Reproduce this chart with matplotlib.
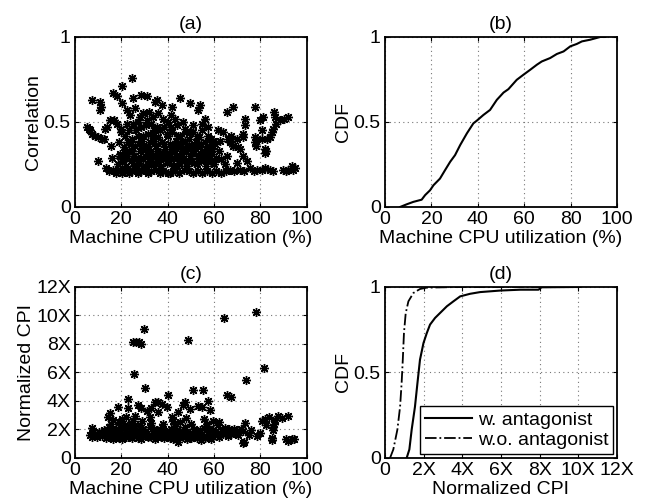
import matplotlib
matplotlib.use("Agg")
import matplotlib.pyplot as plt
import numpy as np

plt.rcParams['font.family'] = ['Liberation Sans', 'DejaVu Sans']
plt.rcParams['font.size'] = 14

# (a) correlation vs machine CPU utilization
corr_pts = [
    (5.0, 0.47), (6.0, 0.46), (6.5, 0.45), (7.5, 0.43), (8.5, 0.42), (10.0, 0.41), (11.5, 0.40),
    (12.5, 0.40), (13.0, 0.46), (14.0, 0.47), (15.0, 0.51), (17.0, 0.51), (18.0, 0.49), (20.0, 0.46),
    (7.2, 0.63), (10.8, 0.62), (11.1, 0.59), (10.8, 0.57), (16.5, 0.67), (18.0, 0.65), (20.4, 0.71),
    (24.7, 0.76), (20.1, 0.61), (22.3, 0.57), (23.7, 0.54), (25.1, 0.64), (25.9, 0.58), (28.7, 0.66),
    (30.9, 0.65), (29.5, 0.55), (34.5, 0.62), (28.0, 0.53), (30.9, 0.51), (33.0, 0.49), (35.2, 0.47),
    (15.4, 0.36), (10.0, 0.27), (15.8, 0.29), (19.4, 0.30), (13.6, 0.23), (14.5, 0.21), (16.5, 0.22),
    (17.5, 0.20), (18.5, 0.21), (19.4, 0.22), (20.5, 0.20), (21.5, 0.21), (22.5, 0.22), (23.5, 0.20),
    (24.5, 0.21), (26.0, 0.22), (27.0, 0.20), (28.5, 0.21), (30.0, 0.22), (31.5, 0.20), (33.0, 0.21),
    (35.0, 0.22), (36.5, 0.20), (38.0, 0.21), (40.0, 0.20), (41.0, 0.20), (43.0, 0.21), (45.0, 0.20),
    (47.0, 0.22), (49.0, 0.21), (51.0, 0.20), (53.0, 0.21), (55.0, 0.20), (57.0, 0.21), (59.0, 0.20),
    (61.0, 0.21), (63.0, 0.20), (65.0, 0.21), (66.8, 0.22), (68.5, 0.21), (71.1, 0.22), (73.0, 0.21),
    (75.4, 0.23), (77.0, 0.21), (78.3, 0.22), (80.5, 0.22), (82.0, 0.23), (84.0, 0.22), (85.5, 0.21),
    (89.8, 0.22), (91.0, 0.21), (92.0, 0.22), (93.4, 0.24), (94.1, 0.22), (94.8, 0.23),
    (18.5, 0.25), (19.5, 0.31), (20.5, 0.27), (21.0, 0.35), (21.5, 0.42), (22.0, 0.24), (22.5, 0.30),
    (23.0, 0.38), (23.5, 0.45), (24.0, 0.27), (24.5, 0.33), (25.0, 0.49), (25.5, 0.24), (26.0, 0.36),
    (26.5, 0.29), (27.0, 0.42), (27.5, 0.26), (28.0, 0.33), (28.5, 0.47), (29.0, 0.39), (29.5, 0.28),
    (30.0, 0.24), (30.5, 0.35), (31.0, 0.31), (31.5, 0.43), (32.0, 0.27), (32.5, 0.38), (33.0, 0.33),
    (33.5, 0.25), (34.0, 0.45), (34.5, 0.30), (35.0, 0.36), (35.5, 0.27), (36.0, 0.41), (36.5, 0.32),
    (37.0, 0.24), (37.5, 0.38), (38.0, 0.29), (38.5, 0.47), (39.0, 0.34), (39.5, 0.26), (40.0, 0.42),
    (40.5, 0.31), (41.0, 0.37), (41.5, 0.28), (42.0, 0.44), (42.5, 0.24), (43.0, 0.33), (43.5, 0.39),
    (44.0, 0.29), (44.5, 0.35), (45.0, 0.26), (45.5, 0.42), (46.0, 0.31), (46.5, 0.38), (47.0, 0.27),
    (47.5, 0.46), (48.0, 0.33), (48.5, 0.24), (49.0, 0.40), (49.5, 0.30), (50.0, 0.36), (50.5, 0.27),
    (51.0, 0.44), (51.5, 0.33), (52.0, 0.38), (52.5, 0.25), (53.0, 0.30), (53.5, 0.41), (54.0, 0.35),
    (54.5, 0.27), (55.0, 0.45), (55.5, 0.32), (56.0, 0.38), (56.5, 0.24), (57.0, 0.29), (57.5, 0.42),
    (58.0, 0.35), (58.5, 0.27), (59.0, 0.31), (59.5, 0.38), (60.0, 0.25),
    (19.0, 0.38), (20.0, 0.44), (21.5, 0.29), (22.5, 0.49), (23.5, 0.33), (24.5, 0.40), (25.5, 0.30),
    (26.5, 0.45), (27.5, 0.37), (28.5, 0.29), (29.5, 0.42), (30.5, 0.48), (31.5, 0.36), (32.5, 0.30),
    (33.5, 0.42), (34.5, 0.26), (35.5, 0.33), (36.5, 0.45), (37.5, 0.31), (38.5, 0.37), (39.5, 0.43),
    (40.5, 0.27), (41.5, 0.47), (42.5, 0.35), (43.5, 0.30), (44.5, 0.42), (45.5, 0.35), (46.5, 0.28),
    (47.5, 0.39), (48.5, 0.36), (49.5, 0.44), (50.5, 0.32), (51.5, 0.26), (52.5, 0.42), (53.5, 0.29),
    (54.5, 0.37), (55.5, 0.28), (56.5, 0.34), (57.5, 0.31), (58.5, 0.40),
    (21.8, 0.32), (24.2, 0.37), (26.8, 0.23), (29.2, 0.34), (31.8, 0.25), (34.2, 0.39), (36.8, 0.28),
    (39.2, 0.30), (41.8, 0.33), (44.2, 0.24), (46.8, 0.34), (49.2, 0.27), (51.8, 0.36), (54.2, 0.31),
    (56.8, 0.27), (59.2, 0.34), (27.2, 0.50), (33.8, 0.53), (44.0, 0.48), (50.8, 0.48),
    (37.4, 0.60), (41.7, 0.59), (41.4, 0.54), (35.2, 0.63), (45.3, 0.64), (49.6, 0.61), (53.9, 0.60),
    (52.9, 0.57), (46.7, 0.50), (48.1, 0.44), (56.0, 0.52), (54.6, 0.49), (57.5, 0.47), (38.0, 0.52),
    (40.0, 0.50), (43.0, 0.52), (32.0, 0.56), (36.0, 0.55),
    (61.8, 0.45), (64.0, 0.44), (66.1, 0.40), (67.0, 0.38), (59.6, 0.39), (60.4, 0.37), (68.3, 0.36),
    (65.4, 0.30), (62.0, 0.33), (63.0, 0.28), (64.5, 0.25), (61.0, 0.29), (62.5, 0.39), (65.4, 0.56),
    (68.3, 0.59), (77.6, 0.59), (73.3, 0.52), (73.3, 0.48), (72.5, 0.43), (80.7, 0.45), (79.7, 0.51),
    (81.2, 0.53), (85.9, 0.56), (86.2, 0.53), (88.4, 0.51), (90.0, 0.52), (92.0, 0.53), (84.0, 0.41),
    (84.8, 0.44), (85.5, 0.46), (86.9, 0.49), (83.0, 0.40), (80.5, 0.40), (77.6, 0.41), (77.6, 0.38),
    (78.0, 0.36), (78.5, 0.40), (72.3, 0.41), (81.9, 0.34), (81.9, 0.32), (82.5, 0.33), (66.8, 0.39),
    (68.2, 0.36), (70.4, 0.35), (72.5, 0.30), (69.7, 0.26), (74.0, 0.27), (71.0, 0.34), (67.5, 0.42),
    (70.0, 0.40),
]

# (b) CDF of machine CPU utilization
cpu_cdf_x = [6.5, 9.4, 12.2, 15.8, 17.3, 19.4, 20.9, 23.7, 25.9, 28.1, 30.2, 32.4, 35.3, 38.1, 39.6,
             42.4, 45.3, 48.2, 51.1, 53.2, 56.8, 59.7, 62.6, 65.5, 67.6, 71.2, 74.1, 77.0, 79.9, 82.7,
             84.9, 88.5, 92.8, 95.0]
cpu_cdf_y = [0.0, 0.016, 0.03, 0.043, 0.07, 0.098, 0.128, 0.167, 0.217, 0.266, 0.305, 0.364, 0.433,
             0.492, 0.508, 0.541, 0.571, 0.63, 0.673, 0.693, 0.748, 0.778, 0.807, 0.837, 0.856, 0.876,
             0.9, 0.915, 0.945, 0.959, 0.974, 0.984, 1.0, 1.0]

# (c) normalized CPI vs machine CPU utilization
cpi_pts = [
    (29.8, 9.08), (24.9, 8.12), (26.3, 8.12), (27.7, 8.12), (28.3, 8.02), (48.9, 8.26), (64.3, 9.82),
    (78.0, 10.22), (25.5, 5.92), (81.7, 6.32), (73.7, 5.45), (30.2, 4.89), (51.0, 4.79), (55.1, 4.79),
    (23.0, 4.12), (40.0, 4.40), (65.4, 4.42), (67.5, 4.30), (57.5, 4.00), (72.7, 1.10),
    (23.0, 3.49), (18.7, 3.55), (27.3, 3.73), (28.7, 3.49), (33.0, 3.49), (34.5, 3.96), (35.8, 3.90),
    (37.4, 3.80), (39.5, 3.60), (15.1, 3.15), (14.4, 2.90), (20.1, 2.72), (25.9, 2.93), (25.1, 2.57),
    (21.5, 2.31), (47.4, 3.93), (46.7, 3.70), (49.6, 3.42), (53.2, 3.65), (54.6, 3.60), (58.2, 3.37),
    (41.7, 2.90), (44.3, 3.20), (45.3, 2.53), (48.1, 2.83), (55.8, 2.72), (59.6, 2.60), (42.5, 2.60),
    (31.0, 3.30), (32.5, 2.90), (36.0, 3.20), (16.5, 2.70), (22.0, 2.90), (29.0, 2.60),
    (80.7, 2.57), (81.9, 2.76), (86.2, 2.69), (87.6, 2.93), (92.0, 2.93), (89.1, 2.80), (83.5, 2.85),
    (73.3, 2.46), (72.5, 1.87), (72.3, 1.05), (84.8, 1.29), (92.0, 1.22), (93.4, 1.30), (94.5, 1.35),
    (91.0, 1.30), (78.3, 1.54), (80.0, 1.75), (85.5, 1.94), (85.5, 2.20), (69.0, 1.75), (70.5, 1.60),
    (84.9, 1.40), (86.0, 2.40), (76.0, 1.95), (82.5, 2.30), (75.0, 1.60),
    (7.2, 2.08), (6.5, 1.60), (7.5, 1.50), (8.5, 1.70), (9.5, 1.45), (10.5, 1.80), (11.5, 1.55),
    (12.5, 1.95), (13.5, 1.40), (14.5, 2.20), (15.5, 1.65), (16.5, 1.35), (17.5, 2.05), (18.5, 1.50),
    (19.5, 1.85), (20.5, 1.30), (21.5, 2.10), (22.5, 1.60), (23.5, 1.75), (24.5, 1.40), (25.5, 2.25),
    (26.5, 1.55), (27.5, 1.90), (28.5, 1.30), (29.5, 2.00), (30.5, 1.65), (31.5, 1.45), (32.5, 2.15),
    (33.5, 1.75), (34.5, 1.35), (35.5, 1.95), (36.5, 1.55), (37.5, 2.20), (38.5, 1.40), (39.5, 1.80),
    (40.5, 1.60), (41.5, 2.05), (42.5, 1.30), (43.5, 1.70), (44.5, 1.15), (45.5, 1.90), (46.5, 1.50),
    (47.5, 2.20), (48.5, 1.35), (49.5, 1.75), (50.5, 1.60), (51.5, 2.00), (52.5, 1.40), (53.5, 1.85),
    (54.5, 1.25), (55.5, 2.10), (56.5, 1.55), (57.5, 1.70), (58.5, 1.30), (59.5, 1.95), (60.5, 1.60),
    (61.5, 2.30), (62.5, 1.75), (63.5, 1.90), (64.5, 2.10), (65.5, 1.80), (66.5, 2.00), (67.5, 1.70),
    (68.5, 2.05), (70.0, 1.85), (71.5, 2.00),
    (8.0, 1.85), (10.0, 1.60), (12.0, 1.70), (14.0, 1.85), (16.0, 2.00), (18.0, 1.75), (20.0, 2.15),
    (22.0, 1.45), (24.0, 2.00), (26.0, 1.80), (28.0, 1.55), (30.0, 1.85), (32.0, 1.60), (34.0, 2.05),
    (36.0, 1.70), (38.0, 1.90), (40.0, 1.45), (42.0, 1.85), (44.0, 1.95), (46.0, 1.70), (48.0, 1.85),
    (50.0, 1.40), (52.0, 1.70), (54.0, 1.95), (56.0, 1.40), (58.0, 2.00), (60.0, 1.85), (62.0, 1.45),
    (64.0, 1.65), (66.0, 1.55),
    (15.0, 1.50), (17.0, 1.60), (19.0, 1.40), (21.0, 1.70), (23.0, 1.50), (25.0, 1.65), (27.0, 1.40),
    (29.0, 1.70), (31.0, 1.55), (33.0, 1.45), (35.0, 1.65), (37.0, 1.50), (39.0, 1.65), (41.0, 1.40),
    (43.0, 1.55), (45.0, 1.45), (47.0, 1.65), (49.0, 1.55), (51.0, 1.45), (53.0, 1.60), (55.0, 1.50),
    (57.0, 1.45), (59.0, 1.55), (15.5, 2.40), (19.0, 2.50), (24.0, 2.35), (28.0, 2.30), (33.0, 2.45),
    (38.0, 2.40), (43.0, 2.25), (50.0, 2.40), (57.0, 2.35), (62.0, 2.55),
]

# (d) CDF of normalized CPI
cpi_with_x = [1.12, 1.26, 1.38, 1.55, 1.68, 1.81, 1.99, 2.16, 2.33, 2.59, 2.94, 3.2, 3.54, 3.89,
              4.4, 4.92, 5.96, 7.0, 7.94, 8.1, 10.1]
cpi_with_y = [0.0, 0.05, 0.166, 0.30, 0.44, 0.575, 0.672, 0.73, 0.78, 0.819, 0.858, 0.887, 0.916,
              0.945, 0.96, 0.97, 0.979, 0.984, 0.984, 0.998, 1.0]
cpi_without_x = [0.26, 0.43, 0.64, 0.78, 0.86, 0.92, 0.98, 1.07, 1.21, 1.47, 1.81, 2.16, 3.89, 10.1]
cpi_without_y = [0.0, 0.05, 0.166, 0.30, 0.44, 0.575, 0.73, 0.846, 0.916, 0.965, 0.988, 0.996, 1.0, 1.0]

cpu_ticks = [0, 20, 40, 60, 80, 100]
cpi_ticks = [0, 2, 4, 6, 8, 10, 12]
cpi_labels = ['0', '2X', '4X', '6X', '8X', '10X', '12X']
frac_ticks = [0, 0.5, 1]
frac_labels = ['0', '0.5', '1']

star = (8, 2, 0)


def style(ax):
    ax.grid(True, linestyle=(0, (1, 3)), color='#777777', linewidth=0.8)
    ax.set_axisbelow(True)
    ax.tick_params(direction='in', length=3, width=0.8, top=True, right=True, pad=3)
    for s in ax.spines.values():
        s.set_linewidth(1.3)


fig = plt.figure(figsize=(6.46, 5.03), dpi=100)
ax_a = fig.add_axes([0.116, 0.5885, 0.359, 0.338])
ax_b = fig.add_axes([0.596, 0.5885, 0.359, 0.338])
ax_c = fig.add_axes([0.116, 0.0895, 0.359, 0.34])
ax_d = fig.add_axes([0.596, 0.0895, 0.359, 0.34])

ca = np.array(corr_pts)
ax_a.plot(ca[:, 0], ca[:, 1], linestyle='none', marker=star, markersize=6.5,
          markeredgewidth=1.0, color='black')
ax_a.set_xlim(0, 100)
ax_a.set_ylim(0, 1)
ax_a.set_xticks(cpu_ticks)
ax_a.set_yticks(frac_ticks, frac_labels)
ax_a.set_xlabel('Machine CPU utilization (%)', labelpad=1)
ax_a.set_ylabel('Correlation', labelpad=1)
ax_a.set_title('(a)', fontsize=14, pad=6)
style(ax_a)

ax_b.plot(cpu_cdf_x, cpu_cdf_y, color='black', linewidth=1.5)
ax_b.set_xlim(0, 100)
ax_b.set_ylim(0, 1)
ax_b.set_xticks(cpu_ticks)
ax_b.set_yticks(frac_ticks, frac_labels)
ax_b.set_xlabel('Machine CPU utilization (%)', labelpad=1)
ax_b.set_ylabel('CDF', labelpad=1)
ax_b.set_title('(b)', fontsize=14, pad=6)
style(ax_b)

cc = np.array(cpi_pts)
ax_c.plot(cc[:, 0], cc[:, 1], linestyle='none', marker=star, markersize=6.5,
          markeredgewidth=1.0, color='black')
ax_c.set_xlim(0, 100)
ax_c.set_ylim(0, 12)
ax_c.set_xticks(cpu_ticks)
ax_c.set_yticks(cpi_ticks, cpi_labels)
ax_c.set_xlabel('Machine CPU utilization (%)', labelpad=1)
ax_c.set_ylabel('Normalized CPI', labelpad=1)
ax_c.set_title('(c)', fontsize=14, pad=6)
style(ax_c)

ax_d.plot(cpi_with_x, cpi_with_y, color='black', linewidth=1.5, label='w. antagonist')
ax_d.plot(cpi_without_x, cpi_without_y, color='black', linewidth=1.3, linestyle='-.',
          label='w.o. antagonist')
ax_d.set_xlim(0, 12)
ax_d.set_ylim(0, 1)
ax_d.set_xticks(cpi_ticks, cpi_labels)
ax_d.set_yticks(frac_ticks, frac_labels)
ax_d.set_xlabel('Normalized CPI', labelpad=1)
ax_d.set_ylabel('CDF', labelpad=1)
ax_d.set_title('(d)', fontsize=14, pad=6)
style(ax_d)
leg = ax_d.legend(loc='lower right', fancybox=False, edgecolor='black', framealpha=1,
                  handlelength=2.4, borderaxespad=0.2, borderpad=0.25, labelspacing=0.15,
                  handletextpad=0.3, fontsize=14)
leg.get_frame().set_linewidth(1.0)

fig.savefig('out.png', dpi=100)
